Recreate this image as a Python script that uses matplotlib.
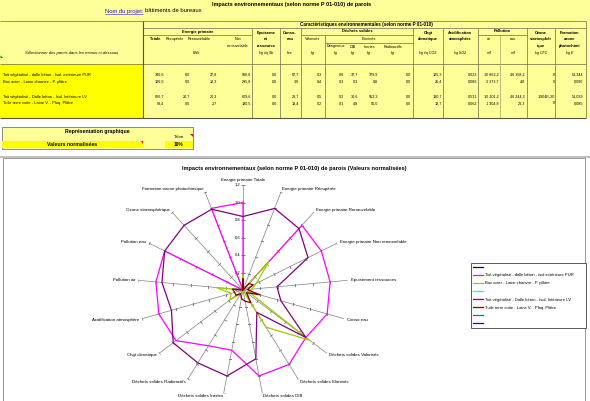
import numpy as np
import matplotlib.pyplot as plt
from matplotlib.patches import Rectangle, Polygon
from matplotlib.lines import Line2D

plt.rcParams['font.family'] = ['Liberation Sans', 'DejaVu Sans']

# ---------------- data read from the sheet ----------------
indicators = ["Energie primaire Totale", "Energie primaire Récupérée",
              "Energie primaire Renouvelable", "Energie primaire Non renouvelable",
              "Epuisement ressources", "Conso eau", "Déchets solides Valorisés",
              "Déchets solides Eliminés", "Déchets solides DIB",
              "Déchets solides Inertes", "Déchets solides Radioactifs",
              "Chgt climatique", "Acidification atmosphère", "Pollution air",
              "Pollution eau", "Ozone stratosphérique",
              "Formation ozone photochimique"]

walls = ["Toit végétalisé - dalle béton - Isol. extérieure PUR",
         "Bac acier - Laine chanvre - P. plâtre",
         "Toit végétalisé - Dalle béton - Isol. Intérieure LV",
         "Tuile terre cuite - Laine V. - Plaq. Plâtre"]

legend_names = ["", "Toit végétalisé - dalle béton - isol extérieure PUR",
                "Bac acier - Laine chanvre - P. plâtre", "",
                "Toit végétalisé - Dalle béton - Isol. Intérieure LV",
                "Tuile terre cuite - Laine V. - Plaq. Plâtre", "", ""]
legend_colors = ['#000080', '#FF00FF', '#99CC00', '#00FFFF',
                 '#800080', '#800000', '#008080', '#0000FF']

# table values as displayed
row_pur = ["746,6", "0,0", "27,8", "990,6", "0,0", "67,7", "0,3", "0,6", "37,7",
           "379,9", "0,0", "125,3", "0,623", "10 862,2", "46 398,2", "0", "51,344"]
row_bac = ["126,6", "0,0", "10,3", "295,8", "0,0", "3,9", "9,4", "0,3", "0,3",
           "9,8", "0,0", "25,4", "0,086", "3 373,7", "4,8", "0", "0,090"]
row_lv = ["626,7", "26,7", "20,3", "609,6", "0,0", "28,7", "0,5", "0,2", "30,6",
          "552,3", "0,0", "130,7", "0,531", "10 101,2", "46 244,3", "1,904E-20", "51,039"]
row_tuile = ["93,4", "0,0", "2,7", "190,5", "0,0", "13,4", "0,2", "0,1", "4,8",
             "56,0", "0,0", "12,7", "0,062", "1 304,8", "23,3", "0", "0,085"]

# normalised values shown on the radar
norm_pur = [1.00, 0.00, 1.00, 1.00, 1.00, 1.00, 0.90, 1.00, 1.00,
            0.70, 0.75, 0.96, 1.00, 1.00, 1.00, 0.00, 1.00]
norm_bac = [0.17, 0.00, 0.44, 0.17, 0.10, 0.06, 0.95, 0.50, 0.01,
            0.02, 0.05, 0.19, 0.14, 0.31, 0.00, 0.00, 0.00]
norm_lv = [0.84, 1.00, 0.95, 0.83, 0.39, 0.45, 0.90, 0.30, 0.80,
           1.00, 0.98, 1.00, 0.85, 0.93, 1.00, 1.00, 0.99]
norm_tuile = [0.125, 0.00, 0.10, 0.13, 0.05, 0.20, 0.05, 0.17, 0.13,
              0.10, 0.05, 0.10, 0.10, 0.12, 0.00, 0.00, 0.00]

r_ticks = [0.0, 0.2, 0.4, 0.6, 0.8, 1.0, 1.2]

# ---------------- figure, pixel canvas ----------------
W, H = 590, 401
fig = plt.figure(figsize=(W / 100, H / 100), dpi=100)
fig.patch.set_facecolor('white')
bg = fig.add_axes([0, 0, 1, 1])
bg.set_xlim(0, W)
bg.set_ylim(H, 0)
bg.axis('off')

LY = '#FFFF99'   # light yellow cells
BY = '#FFFF00'   # bright yellow cells
LC = '#6b6b4a'   # grid lines


def txt(x, y, s, size=2.5, ha='center', weight='normal', style='normal', color='black'):
    bg.text(x, y, s, fontsize=size, ha=ha, va='center', fontweight=weight,
            fontstyle=style, color=color)


def hline(y, x0, x1, lw=0.5, c=LC):
    bg.plot([x0, x1], [y, y], color=c, lw=lw, solid_capstyle='butt')


def vline(x, y0, y1, lw=0.5, c=LC):
    bg.plot([x, x], [y0, y1], color=c, lw=lw, solid_capstyle='butt')


# table background
bg.add_patch(Rectangle((0, 0), W, 118, facecolor=LY, edgecolor='none'))
bg.add_patch(Rectangle((0, 64.3), 143.3, 53.7, facecolor=BY, edgecolor='none'))

txt(292, 4.5, "Impacts environnementaux (selon norme P 01-010) de parois", 4.0, weight='bold')
txt(105, 11, "Nom du projet:", 4.2, ha='left', color='#2222cc')
hline(13.6, 105, 143, lw=0.4, c='#2222cc')
txt(145, 11, "bâtiments de bureaux", 4.2, ha='left')

txt(366, 24.8, "Caractéristiques environnementales (selon norme P 01-010)", 3.3, weight='bold')

bold_heads = [(198, 31.5, "Energie primaire"), (266, 32.7, "Epuiseme"), (266, 39.3, "nt"),
              (266, 45.7, "ressource"), (290, 32.7, "Conso-"), (290, 39.3, "eau"),
              (357, 31.5, "Déchets solides"), (428, 32.7, "Chgt"), (428, 39.3, "climatique"),
              (460, 32.7, "Acidification"), (460, 39.3, "atmosphère"), (502, 31.5, "Pollution"),
              (541, 32.7, "Ozone"), (541, 39.3, "stratosphér"), (541, 45.7, "ique"),
              (570, 32.7, "Formation"), (570, 39.3, "ozone"), (570, 45.7, "photochimi"),
              (155, 39.3, "Totale")]
for x, y, s in bold_heads:
    txt(x, y, s, 2.9, weight='bold')

sub_heads = [(175, 39.3, "Récupérée"), (199, 39.3, "Renouvelable"), (238, 39.3, "Non"),
             (238, 46, "renouvelable"), (313, 39.3, "Valorisés"), (369, 39.3, "Eliminés"),
             (336, 46.5, "Dangereux"), (353, 46.5, "DIB"), (369, 46.5, "Inertes"),
             (393, 46.5, "Radioactifs"), (489, 39.3, "air"), (513, 39.3, "eau")]
for x, y, s in sub_heads:
    txt(x, y, s, 2.7)

units = [(197, "kWh"), (266, "kg éq Sb"), (290, "litre"), (313, "kg"), (336, "kg"),
         (353, "kg"), (369, "kg"), (393, "kg"), (428, "kg éq CO2"), (460, "kg SO2"),
         (489, "m3"), (513, "m3"), (541, "kg CFC"), (570, "kg E")]
for x, s in units:
    txt(x, 52.7, s, 2.6, style='italic')
txt(72, 52.7, "Sélectionner des parois dans les menus ci-dessous", 3.0, style='italic')
bg.add_patch(Polygon([[0.5, 55.5], [3, 58], [0.5, 58]], closed=True, facecolor='#008000', edgecolor='none'))

# grid lines of the table
hline(21, 0, 586)
hline(28.3, 143.3, 586)
hline(35.3, 143.3, 252.3)
hline(35.3, 300.5, 413)
hline(35.3, 478, 527)
hline(42.5, 325, 413)
hline(64.3, 0, 586)
hline(118, 0, 586, lw=0.8, c='#555544')
vline(143.3, 21, 118, lw=0.8, c='#555544')
for x in [252.3, 279.5, 300.5, 413, 443, 478, 527, 555]:
    vline(x, 28.3, 118)
vline(325, 35.3, 118)
vline(500, 35.3, 118, c='#a0a070')
vline(586, 21, 118)

# table rows
num_right = [164, 190, 217, 251, 277, 299, 322, 344, 358, 378, 411, 442, 477, 499, 525, 555, 583]
row_y = [75, 81.7, 96.7, 103.3]
for y, name, vals in zip(row_y, walls, [row_pur, row_bac, row_lv, row_tuile]):
    txt(3, y, name, 2.9, ha='left')
    for x, v in zip(num_right, vals):
        txt(x, y, v, 2.7, ha='right')

# "Représentation graphique" box
bg.add_patch(Rectangle((2, 127), 191, 21.5, facecolor=LY, edgecolor='#777777', lw=0.6))
bg.add_patch(Rectangle((2.3, 141), 141, 7.2, facecolor=BY, edgecolor='none'))
bg.add_patch(Rectangle((165, 141), 27.7, 7.2, facecolor=BY, edgecolor='none'))
txt(97, 131.5, "Représentation graphique", 3.7, weight='bold')
txt(179, 137.3, "Talon", 3.2)
txt(72, 144.8, "Valeurs normalisées", 3.7, weight='bold')
txt(179, 144.8, "10%", 3.4, weight='bold')
bg.add_patch(Polygon([[140.5, 141], [143.3, 141], [143.3, 143.8]], closed=True, facecolor='red', edgecolor='none'))
bg.add_patch(Polygon([[190, 134], [192.8, 134], [192.8, 136.8]], closed=True, facecolor='red', edgecolor='none'))

# separator and chart frame
bg.add_patch(Rectangle((0, 155.6), W, 2.8, facecolor='#C0C0C0', edgecolor='none'))
bg.add_patch(Rectangle((3, 158.4), 582, 250, facecolor='white', edgecolor='#888888', lw=0.6))
txt(294, 168.5, "Impacts environnementaux (selon norme P 01-010) de parois (Valeurs normalisées)",
    4.1, weight='bold')

# ---------------- radar chart ----------------
cx, cy, R = 243, 290, 105
ax = fig.add_axes([(cx - R) / W, 1 - (cy + R) / H, 2 * R / W, 2 * R / H], projection='polar')
ax.set_theta_zero_location('N')
ax.set_theta_direction(-1)
ax.set_ylim(0, 1.2)
ax.axis('off')

n = len(indicators)
theta = np.arange(n) * 2 * np.pi / n

for t, name in zip(theta, indicators):
    ax.plot([t, t], [0, 1.2], color='#808080', lw=0.5, zorder=1)
    deg = np.degrees(t)
    ax.plot([t] * len(r_ticks[1:]), r_ticks[1:], ls='none', marker=(2, 2, 90 - deg),
            ms=2.2, mew=0.4, color='#808080', zorder=1)
    s, c = np.sin(t), np.cos(t)
    if s > 0.05:
        ha = 'left'
    elif s < -0.05:
        ha = 'right'
    else:
        ha = 'center'
    va = 'bottom' if c > 0.99 else 'center'
    ax.annotate(name, xy=(t, 1.2), xytext=(2.2 * s, 2.2 * c), textcoords='offset points',
                ha=ha, va=va, fontsize=3.2, annotation_clip=False)

for r in r_ticks:
    ax.annotate(f"{r:.1f}".replace('.', ','), xy=(0, r), xytext=(-2, 0),
                textcoords='offset points', ha='right', va='center', fontsize=3.0,
                annotation_clip=False)

th_closed = np.append(theta, theta[0])
series = [(norm_pur, '#FF00FF', 0.9), (norm_bac, '#99CC00', 0.9),
          (norm_lv, '#800080', 0.9), (norm_tuile, '#800000', 0.9)]
for vals, col, lw in series:
    ax.plot(th_closed, np.append(vals, vals[0]), color=col, lw=lw, zorder=3)

handles = [Line2D([], [], color=c, lw=0.9) for c in legend_colors]
fig.legend(handles, legend_names, loc='upper left',
           bbox_to_anchor=(471 / W, 1 - 329.3 / H, (585.7 - 471) / W, (329.3 - 263.3) / H),
           mode='expand', fontsize=3.0, handlelength=2.4, handletextpad=0.45,
           labelspacing=0.97, borderpad=0.5, borderaxespad=0, fancybox=False,
           edgecolor='#404040', framealpha=1).get_frame().set_linewidth(0.6)

fig.savefig('out.png', dpi=100)
